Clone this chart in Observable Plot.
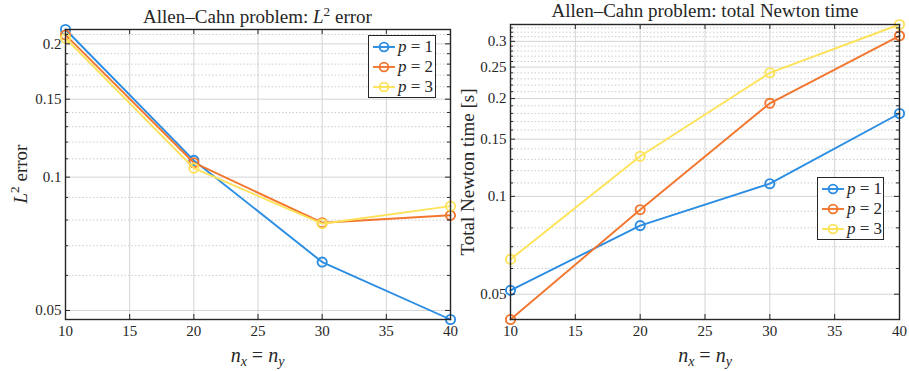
<!DOCTYPE html>
<html>
<head>
<meta charset="utf-8">
<script src="https://cdn.jsdelivr.net/npm/d3@7"></script>
<script src="https://cdn.jsdelivr.net/npm/@observablehq/plot@0.6"></script>
<style>
  html, body { margin: 0; padding: 0; background: #fff; }
  #root { position: relative; width: 909px; height: 371px; font-family: "Liberation Serif", "Times New Roman", serif; color: #262626; overflow: hidden; }
  #root svg, #root svg text { font-family: "Liberation Serif", "Times New Roman", serif !important; }
  .abs { position: absolute; white-space: nowrap; }
  .title { font-size: 19px; line-height: 19px; transform: translateX(-50%); }
  .xlab { font-size: 20px; line-height: 20px; transform: translateX(-50%); }
  .ylab { font-size: 19px; line-height: 19px; transform: translate(-50%, -50%) rotate(-90deg); }
  sub { font-size: 0.7em; vertical-align: -0.3em; line-height: 0; }
  sup { font-size: 0.7em; vertical-align: 0.55em; line-height: 0; }
  .legend { position: absolute; background: #fff; border: 1.3px solid #262626; box-sizing: border-box; padding: 0; font-family: "Liberation Serif", "Times New Roman", serif; }
  .legrow { display: flex; align-items: center; height: 20px; font-size: 17px; }
  .legrow svg { display: block; margin-left: 3px; margin-right: 2px; }
</style>
</head>
<body>
<div id="root"></div>
<script>
// ---- data ----
const nx = [10, 20, 30, 40];
const seriesNames = ["p = 1", "p = 2", "p = 3"];
const seriesColors = ["#2a8de3", "#f2762e", "#fde25a"];
const errP1 = [0.2155, 0.1091, 0.0643, 0.0477];
const errP2 = [0.2095, 0.1078, 0.0789, 0.0820];
const errP3 = [0.2059, 0.1048, 0.0785, 0.0860];
const timeP1 = [0.0514, 0.0813, 0.1094, 0.1799];
const timeP2 = [0.0418, 0.0910, 0.1934, 0.3120];
const timeP3 = [0.0640, 0.1329, 0.2401, 0.3380];
const xTicks = [10, 15, 20, 25, 30, 35, 40];
const errTicks = [0.05, 0.1, 0.15, 0.2];
const errMinor = [0.06, 0.07, 0.08, 0.09, 0.11, 0.12, 0.13, 0.14, 0.16, 0.17, 0.18, 0.19, 0.21];
const timeTicks = [0.05, 0.1, 0.15, 0.2, 0.25, 0.3];
const timeMinor = [0.06, 0.07, 0.08, 0.09, 0.11, 0.12, 0.13, 0.14, 0.16, 0.17, 0.18, 0.19,
                   0.21, 0.22, 0.23, 0.24, 0.26, 0.27, 0.28, 0.29, 0.31, 0.32, 0.33];
const errDomain = [0.0477, 0.2155];
const timeDomain = [0.0418, 0.3380];

function toRows(values) {
  const rows = [];
  values.forEach((arr, s) => arr.forEach((v, i) => rows.push({x: nx[i], y: v, s})));
  return rows;
}

function panel({width, height, ml, mr, mt, mb, domain, ticks, minor, values}) {
  const fw = width - ml - mr, fh = height - mt - mb;
  const rows = toRows(values);
  const ink = "#262626";
  const marks = [
    Plot.ruleX(xTicks, {x: d => d, stroke: "#d4d4d4", strokeWidth: 1}),
    Plot.ruleY(minor, {y: d => d, stroke: "#cdcdcd", strokeWidth: 1, strokeDasharray: "1.5,2"}),
    Plot.ruleY(ticks, {y: d => d, stroke: "#d4d4d4", strokeWidth: 1}),
  ];
  seriesNames.forEach((name, s) => {
    const data = rows.filter(r => r.s === s);
    marks.push(Plot.line(data, {x: "x", y: "y", stroke: seriesColors[s], strokeWidth: 1.9}));
    marks.push(Plot.dot(data, {x: "x", y: "y", r: 4.6, stroke: seriesColors[s], strokeWidth: 1.9, fill: "none"}));
  });
  marks.push(
    Plot.tickX(xTicks, {x: d => d, insetTop: fh - 5, stroke: ink, strokeWidth: 1}),
    Plot.tickX(xTicks, {x: d => d, insetBottom: fh - 5, stroke: ink, strokeWidth: 1}),
    Plot.tickY(ticks, {y: d => d, insetRight: fw - 5, stroke: ink, strokeWidth: 1}),
    Plot.tickY(ticks, {y: d => d, insetLeft: fw - 5, stroke: ink, strokeWidth: 1}),
    Plot.tickY(minor, {y: d => d, insetRight: fw - 3, stroke: ink, strokeWidth: 1}),
    Plot.tickY(minor, {y: d => d, insetLeft: fw - 3, stroke: ink, strokeWidth: 1}),
    Plot.frame({stroke: ink, strokeWidth: 1.4})
  );
  return Plot.plot({
    width, height,
    marginLeft: ml, marginRight: mr, marginTop: mt, marginBottom: mb,
    style: 'font-family: "Liberation Serif", "Times New Roman", serif; font-size: 15px; color: #262626; background: transparent; overflow: visible;',
    x: {domain: [10, 40], ticks: xTicks, tickSize: 0, tickPadding: 6, label: null},
    y: {type: "log", domain, ticks, tickFormat: d => String(d), tickSize: 0, tickPadding: 4, label: null},
    marks
  });
}

const root = document.getElementById("root");

const left = panel({width: 455, height: 371, ml: 65, mr: 5, mt: 29, mb: 52,
  domain: errDomain, ticks: errTicks, minor: errMinor, values: [errP1, errP2, errP3]});
left.style.position = "absolute"; left.style.left = "0px"; left.style.top = "0px";
root.appendChild(left);

const right = panel({width: 454, height: 371, ml: 55, mr: 10, mt: 24, mb: 52,
  domain: timeDomain, ticks: timeTicks, minor: timeMinor, values: [timeP1, timeP2, timeP3]});
right.style.position = "absolute"; right.style.left = "455px"; right.style.top = "0px";
root.appendChild(right);

function addDiv(cls, html, left, top) {
  const d = document.createElement("div");
  d.className = "abs " + cls;
  d.innerHTML = html;
  d.style.left = left + "px";
  d.style.top = top + "px";
  root.appendChild(d);
  return d;
}

addDiv("title", 'Allen–Cahn problem: <i>L</i><sup>2</sup> error', 257.5, 7);
addDiv("title", 'Allen–Cahn problem: total Newton time', 705, 1);
addDiv("xlab", '<i>n</i><sub><i>x</i></sub> = <i>n</i><sub><i>y</i></sub>', 257.5, 345);
addDiv("xlab", '<i>n</i><sub><i>x</i></sub> = <i>n</i><sub><i>y</i></sub>', 705, 345);
addDiv("ylab", '<i>L</i><sup>2</sup> error', 20, 174);
addDiv("ylab", 'Total Newton time [s]', 467, 172);

function legend(left, top, width) {
  const box = document.createElement("div");
  box.className = "legend";
  box.style.left = left + "px";
  box.style.top = top + "px";
  box.style.width = width + "px";
  box.style.paddingTop = "1px";
  seriesNames.forEach((name, s) => {
    const row = document.createElement("div");
    row.className = "legrow";
    const parts = name.split(" = ");
    row.innerHTML =
      `<svg width="24" height="20"><line x1="1" y1="10" x2="23" y2="10" stroke="${seriesColors[s]}" stroke-width="1.9"/>` +
      `<circle cx="12" cy="10" r="4.4" fill="none" stroke="${seriesColors[s]}" stroke-width="1.9"/></svg>` +
      `<span><i>${parts[0]}</i> = ${parts[1]}</span>`;
    box.appendChild(row);
  });
  root.appendChild(box);
}
legend(368, 35, 68);
legend(817, 177, 67);
</script>
</body>
</html>
